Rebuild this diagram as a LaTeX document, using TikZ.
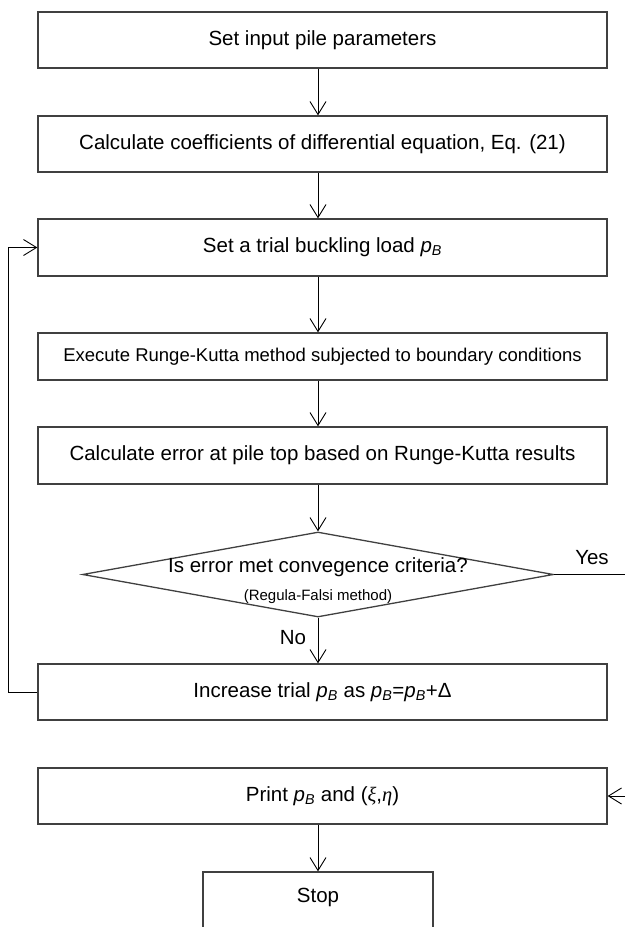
\documentclass[tikz,border=0pt]{standalone}
\usepackage{fontspec}
\setmainfont{Liberation Sans}
\newfontfamily\grkfont{Liberation Serif}
\usetikzlibrary{arrows.meta,shapes.geometric}
\newcommand\pB{\textit{p}\textsubscript{\textit{B}}}
\begin{document}
\begin{tikzpicture}[x=1pt,y=-1pt,
  box/.style={draw=black!75, line width=1.3pt, minimum width=569pt, inner sep=0pt,
    font=\fontsize{20.5}{24}\selectfont},
  arr/.style={-{Straight Barb[length=13pt,width=16pt]}, line width=0.9pt, black},
  ln/.style={line width=0.9pt, black},
  lbl/.style={inner sep=0pt, font=\fontsize{20.5}{24}\selectfont}]
\useasboundingbox (0,0) rectangle (625,927);
\clip (0,0) rectangle (625,927);

\node[box, minimum height=56pt] (b1) at (322.5,40) {Set input pile parameters};
\node[box, minimum height=56pt] (b2) at (322.5,144) {Calculate coefficients of differential equation, Eq. (21)};
\node[box, minimum height=57pt] (b3) at (322.5,247.5) {Set a trial buckling load \pB};
\node[box, minimum height=47pt, font=\fontsize{18.5}{22}\selectfont] (b4) at (322.5,356.5) {Execute Runge-Kutta method subjected to boundary conditions};
\node[box, minimum height=57pt] (b5) at (322.5,455.5) {Calculate error at pile top based on Runge-Kutta results};
\node[draw=black!75, line width=1.3pt, diamond, minimum width=471pt, minimum height=85pt, inner sep=0pt] (d) at (318,574.5) {};
\node[lbl] (dt1) at (318,567) {Is error met convegence criteria?};
\node[lbl, font=\fontsize{15}{18}\selectfont] (dt2) at (318,597) {(Regula-Falsi method)};
\node[box, minimum height=56pt] (b6) at (322.5,692) {Increase trial \pB{} as \pB=\pB+Δ};
\node[box, minimum height=56pt] (b7) at (322.5,796) {Print \pB{} and ({\grkfont\itshape ξ},{\grkfont\itshape η})};
\node[box, minimum width=230pt, minimum height=56pt, text depth=0pt] (stop) at (318,900) {};
\node[lbl] (stopt) at (318,897) {Stop};

\node[lbl] (yes) at (592,558) {Yes};
\node[lbl] (no) at (293,638) {No};

\coordinate (yesend) at (625,574.5);
\coordinate (retin) at (625,796);

\draw[arr] (b1.south -| d.north) -- (b2.north -| d.north);
\draw[arr] (b2.south -| d.north) -- (b3.north -| d.north);
\draw[arr] (b3.south -| d.north) -- (b4.north -| d.north);
\draw[arr] (b4.south -| d.north) -- (b5.north -| d.north);
\draw[arr] (b5.south -| d.north) -- (d.north);
\draw[arr] (d.south) -- (b6.north -| d.south);
\draw[arr] (b6.west) -- ++(-29,0) |- (b3.west);
\draw[ln] (d.east) -- (yesend);
\draw[arr] (retin) -- (b7.east);
\draw[arr] (b7.south -| stop.north) -- (stop.north);
\end{tikzpicture}
\end{document}
